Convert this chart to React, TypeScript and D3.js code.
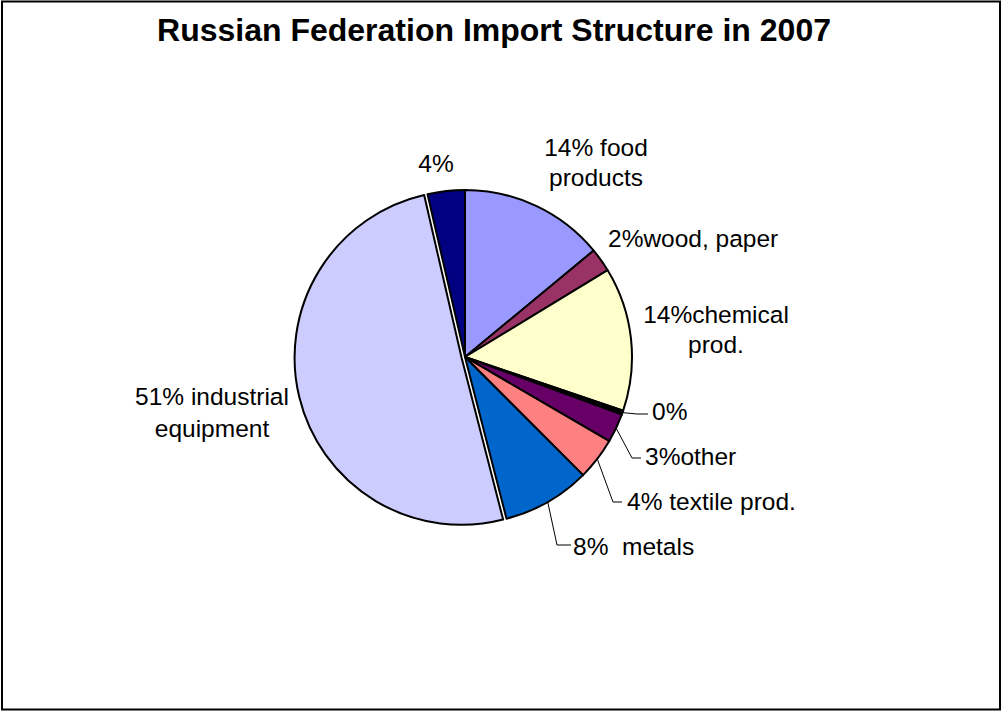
import React from "react";
import * as d3 from "d3";

const categories = ["food products", "wood, paper", "chemical prod.", "zero", "other", "textile prod.", "metals", "industrial equipment", "unnamed"];
const values = [14.0, 2.3, 13.9, 0.4, 2.8, 4.1, 8.5, 50.4, 3.6];
const labelTexts = [["14% food", "products"], ["2%wood, paper"], ["14%chemical", "prod."], ["0%"], ["3%other"], ["4% textile prod."], ["8%  metals"], ["51% industrial", "equipment"], ["4%"]];
const colors = ["#9999FF", "#993366", "#FFFFCC", "#000000", "#660066", "#FF8080", "#0066CC", "#CCCCFF", "#000080"];
const exploded = [0, 0, 0, 0, 0, 0, 0, 3.5, 0];

// layout (label positions & leader elbows)
const labelLayout = [
  { x: 596, y: 156, anchor: "middle", gap: 30, leader: null },
  { x: 608, y: 247, anchor: "start", gap: 30, leader: null },
  { x: 716, y: 323, anchor: "middle", gap: 30, leader: null },
  { x: 652, y: 420, anchor: "start", gap: 30, leader: [[637, 414], [648, 414]] },
  { x: 645, y: 465, anchor: "start", gap: 30, leader: [[632, 458], [641, 458]] },
  { x: 627, y: 510, anchor: "start", gap: 30, leader: [[613, 502], [622, 502]] },
  { x: 573, y: 555, anchor: "start", gap: 30, leader: [[557, 545], [571, 545]] },
  { x: 212, y: 405, anchor: "middle", gap: 32, leader: null },
  { x: 436, y: 172, anchor: "middle", gap: 30, leader: null },
];

const W = 1002, H = 711;
const cx = 465, cy = 357, R = 167;
const font = "'Liberation Sans', Arial, sans-serif";

export default function App() {
  const pie = d3.pie<number>().sort(null).value((d) => d).startAngle(0).endAngle(2 * Math.PI);
  const arcs = pie(values);
  const arc = d3.arc<d3.PieArcDatum<number>>().innerRadius(0).outerRadius(R);

  return (
    <svg width={W} height={H} style={{ position: "absolute", left: 0, top: 0 }} fontFamily={font}>
      <rect x={0} y={0} width={W} height={H} fill="#fff" />
      <rect x={2} y={1.5} width={998} height={708} fill="none" stroke="#000" strokeWidth={2} />
      <text x={494} y={41} textAnchor="middle" fontSize={32} fontWeight="bold" fill="#000">
        Russian Federation Import Structure in 2007
      </text>
      <g transform={`translate(${cx},${cy})`}>
        {arcs.map((a, i) => {
          const mid = (a.startAngle + a.endAngle) / 2;
          const dx = Math.sin(mid) * exploded[i];
          const dy = -Math.cos(mid) * exploded[i];
          return (
            <path key={categories[i]} d={arc(a) || ""} transform={`translate(${dx},${dy})`}
              fill={colors[i]} stroke="#000" strokeWidth={2} strokeLinejoin="round" />
          );
        })}
      </g>
      {arcs.map((a, i) => {
        const L = labelLayout[i];
        const mid = (a.startAngle + a.endAngle) / 2;
        const sx = cx + Math.sin(mid) * R;
        const sy = cy - Math.cos(mid) * R;
        return (
          <g key={"l" + i}>
            {L.leader && (
              <polyline points={`${sx},${sy} ${L.leader.map((p) => p.join(",")).join(" ")}`}
                fill="none" stroke="#000" strokeWidth={1} />
            )}
            <text x={L.x} y={L.y} textAnchor={L.anchor as any} fontSize={24.5} fill="#000" style={{ whiteSpace: "pre" }}>
              {labelTexts[i].map((t, j) => (
                <tspan key={j} x={L.x} dy={j === 0 ? 0 : L.gap}>{t}</tspan>
              ))}
            </text>
          </g>
        );
      })}
    </svg>
  );
}
